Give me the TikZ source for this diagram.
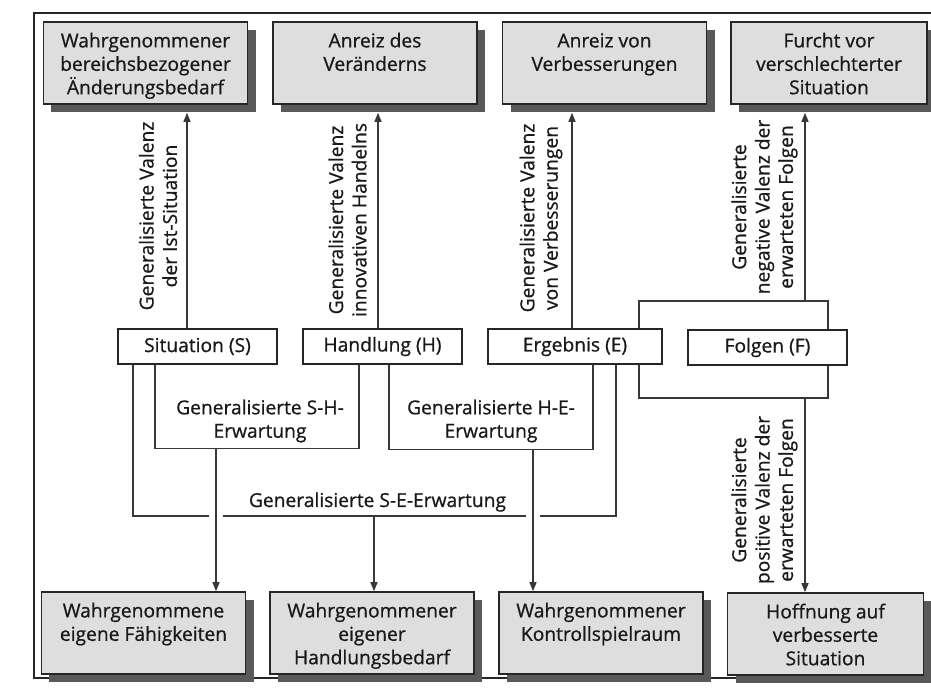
\documentclass[tikz,border=0pt]{standalone}
\usepackage{fontspec}
\setmainfont{Open Sans}[FakeBold=0.8]
\usetikzlibrary{positioning, calc, shadows, arrows.meta}
\tikzset{
	labeltext/.style={font=\fontsize{19.3}{23.5}\selectfont\color{black!90}}
}
\newcommand{\blocklines}[1]{\parbox[c][64bp][t]{196bp}{\centering\strut #1}}

\begin{document}
\begin{tikzpicture}[x=1bp,y=-1bp]

      \tikzset{
        grayblock/.style={
            shape=rectangle,
            draw=black!85,
            line width=1.6bp,
            fill=black!13,
            minimum width=204bp,
            minimum height=82bp,
            inner xsep=0bp,
            inner ysep=9bp,
            labeltext,
            general shadow={fill=black!65, shadow xshift=8bp, shadow yshift=-8bp}
          },
        whiteblock/.style={
            shape=rectangle,
            draw=black!85,
            line width=1.3bp,
            fill=white,
            minimum width=159bp,
            minimum height=35bp,
            inner sep=0pt,
            labeltext
          },
        valtext/.style={rotate=90, align=center, labeltext},
        plainline/.style={draw=black!78, line width=1.4bp},
        arrowline/.style={plainline, -{Triangle[length=9bp,width=7bp]}}
      }

      \useasboundingbox (0,0) rectangle (931,688);
      \draw[black!85, line width=1.8bp] (931,13) -- (34,13) -- (34,678) -- (931,678);

      % bracket round E and F, behind the boxes
      \coordinate (fnw) at (639,301);
      \coordinate (fse) at (828,398);
      \draw[plainline] (fnw) rectangle (fse);

      \node[grayblock] (aend) at (145.5,63) {\blocklines{Wahrgenommener\\bereichsbezogener\\Änderungsbedarf}};
      \node[grayblock] (anrv) at (375,63) {\blocklines{Anreiz des\\Veränderns}};
      \node[grayblock] (anrb) at (604.5,63) {\blocklines{Anreiz von\\Verbesserungen}};
      \node[grayblock, minimum width=196bp] (furcht) at (829,63) {\blocklines{Furcht vor\\verschlechterter\\Situation}};

      \node[whiteblock] (sit) at (197.5,346.5) {Situation (S)};
      \node[whiteblock] (hand) at (382.5,346.5) {Handlung (H)};
      \node[whiteblock, minimum width=174bp] (erg) at (575,346.5) {Ergebnis (E)};
      \node[whiteblock] (folg) at (767.5,347.5) {Folgen (F)};

      \node[grayblock] (faeh) at (143.5,633) {\blocklines{Wahrgenommene\\eigene Fähigkeiten}};
      \node[grayblock] (hbed) at (372,633) {\blocklines{Wahrgenommener\\eigener\\Handlungsbedarf}};
      \node[grayblock] (kontr) at (601,633) {\blocklines{Wahrgenommener\\Kontrollspielraum}};
      \node[grayblock, minimum width=196bp] (hoff) at (825.5,634) {\blocklines{Hoffnung auf\\verbesserte\\Situation}};

      \node[valtext] (valS) at (158,216) {Generalisierte Valenz\\der Ist-Situation};
      \node[valtext] (valH) at (347.5,220) {Generalisierte Valenz\\innovativen Handelns};
      \node[valtext] (valE) at (541,218) {Generalisierte Valenz\\von Verbesserungen};
      \node[valtext] (valneg) at (764.5,207) {Generalisierte\\negative Valenz der\\erwarteten Folgen};
      \node[valtext] (valpos) at (764.5,500) {Generalisierte\\positive Valenz der\\erwarteten Folgen};

      \node[labeltext, align=center] (shlab) at (260,421) {Generalisierte S-H-\\Erwartung};
      \node[labeltext, align=center] (helab) at (491,421) {Generalisierte H-E-\\Erwartung};
      \node[labeltext] (selab) at (377.5,502) {Generalisierte S-E-Erwartung};

      % valences, up to the top row
      \coordinate (supS) at ([xshift=-10.5bp]sit.north);
      \coordinate (supH) at ([xshift=-4.5bp]hand.north);
      \coordinate (supE) at ([xshift=-3bp]erg.north);
      \coordinate (fup) at (805,301);
      \draw[arrowline] (supS) -- ($(supS |- aend.south)+(0,8)$);
      \draw[arrowline] (supH) -- ($(supH |- anrv.south)+(0,8)$);
      \draw[arrowline] (supE) -- ($(supE |- anrb.south)+(0,8)$);
      \draw[arrowline] (fup) -- ($(fup |- furcht.south)+(0,8)$);

      % expectations, down to the bottom row
      \draw[plainline] ([xshift=-42.5bp]sit.south) -- ++(0,84) -| ([xshift=-23.5bp]hand.south);
      \draw[plainline] ([xshift=6.5bp]hand.south) -- ++(0,85) -| ([xshift=18bp]erg.south);
      \coordinate (shdown) at (216,448);
      \coordinate (hedown) at (533,449);
      \coordinate (sedown) at (374,516);
      \draw[plainline] ([xshift=-64.5bp]sit.south) |- ($(sedown -| shdown)+(-7,0)$);
      \draw[plainline] ($(sedown -| shdown)+(7,0)$) -- ($(sedown -| hedown)+(-7,0)$);
      \draw[plainline] ($(sedown -| hedown)+(7,0)$) -| ([xshift=41bp]erg.south);
      \draw[arrowline] (shdown) -- (shdown |- faeh.north);
      \draw[arrowline] (sedown) -- (sedown |- hbed.north);
      \draw[arrowline] (hedown) -- (hedown |- kontr.north);

      \coordinate (fdown) at (805,398);
      \draw[arrowline] (fdown) -- (fdown |- hoff.north);
    \end{tikzpicture}
\end{document}
